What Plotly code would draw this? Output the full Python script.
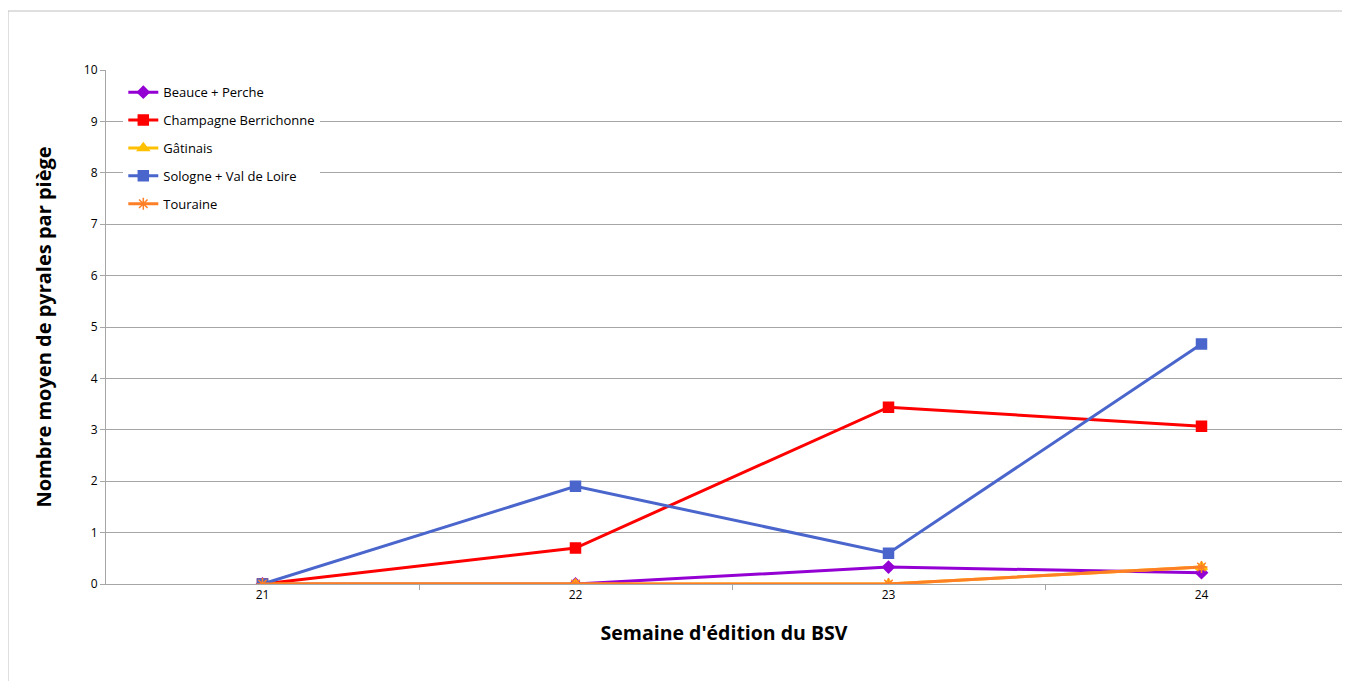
import plotly.graph_objects as go

weeks = [21, 22, 23, 24]
beauce = [0, 0, 0.33, 0.22]
champagne = [0, 0.70, 3.44, 3.07]
gatinais = [0, 0, 0, 0.33]
sologne = [0, 1.90, 0.60, 4.67]
touraine = [0, 0, 0, 0.33]

series = [
    ("Beauce + Perche", beauce, "#9400D3", "diamond", 9),
    ("Champagne Berrichonne", champagne, "#FF0000", "square", 10),
    ("Gâtinais", gatinais, "#FFC000", "triangle-up", 10),
    ("Sologne + Val de Loire", sologne, "#4A66CC", "square", 10),
    ("Touraine", touraine, "#FF7F27", "asterisk-open", 10),
]

fig = go.Figure()
for i, (name, vals, color, sym, size) in enumerate(series):
    fig.add_trace(go.Scatter(
        x=weeks, y=vals, name=name, mode="lines+markers",
        line=dict(color=color, width=3),
        marker=dict(symbol=sym, size=size, color=color,
                    line=dict(color=color, width=1.5)),
        legendgroup=f"g{i}",
    ))

# page body has an 8px margin; compensate
W, H = 1334, 673
L, R, T, B = 98, 0, 62, 97
pw = W - L - R
ph = H - T - B
spacing = 313.0
xr = [20.5, 20.5 + pw / spacing]

fig.update_layout(
    width=W, height=H,
    margin=dict(l=L, r=R, t=T, b=B),
    paper_bgcolor="white", plot_bgcolor="white",
    font=dict(family="Open Sans", size=12, color="#000000"),
    showlegend=True,
    legend=dict(x=0.014, y=0.986, xanchor="left", yanchor="top",
                bgcolor="white", font=dict(size=13, family="Open Sans"),
                tracegroupgap=8, itemwidth=30),
    xaxis=dict(
        range=xr, tickvals=weeks, ticktext=[str(w) for w in weeks],
        ticks="", showgrid=False, zeroline=False,
        showline=True, linecolor="#A6A6A6", linewidth=1,
        tickfont=dict(size=12),
        minor=dict(tickvals=[21.5, 22.5, 23.5], ticks="outside",
                   ticklen=5, tickcolor="#A6A6A6", showgrid=False),
        title=dict(text="Semaine d'édition du BSV",
                   font=dict(size=19.5, family="Open Sans", weight="bold"),
                   standoff=23),
    ),
    yaxis=dict(
        range=[0, 10], dtick=1, tick0=0,
        showgrid=True, gridcolor="#A6A6A6", gridwidth=1,
        zeroline=False, showline=True, linecolor="#A6A6A6", linewidth=1,
        ticks="outside", ticklen=5, tickcolor="#A6A6A6",
        tickfont=dict(size=12),
        title=dict(text="Nombre moyen de pyrales par piège",
                   font=dict(size=20, family="Open Sans", weight="bold"),
                   standoff=26),
    ),
)

fig.add_shape(type="rect", xref="paper", yref="paper",
              x0=(0 - L) / pw, x1=1.05, y0=-0.4, y1=(H - B - 3) / ph,
              line=dict(color="#BFBFBF", width=1), layer="below")

fig.write_html("out.html")
